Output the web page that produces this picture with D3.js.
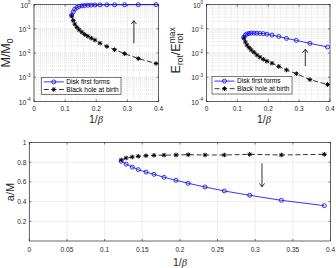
<!DOCTYPE html>
<html><head><meta charset="utf-8">
<script src="https://cdn.jsdelivr.net/npm/d3@7"></script>
<style>
html,body{margin:0;padding:0;background:#fff;}
svg{display:block;font-family:"Liberation Sans",Arial,Helvetica,sans-serif;}
</style></head>
<body><svg id="c" width="336" height="268"></svg>
<script>
// ---------- data ----------
const xTop = [0.121,0.126,0.131,0.138,0.145,0.154,0.163,0.173,0.184,0.196,0.212,0.234,0.259,0.291,0.335,0.392];
const massDisk = [0.36,0.50,0.64,0.75,0.83,0.88,0.91,0.93,0.945,0.955,0.965,0.97,0.975,0.98,0.985,0.99];
const massBH   = [0.338,0.217,0.155,0.114,0.090,0.072,0.058,0.049,0.041,0.034,0.0255,0.0186,0.0137,0.0094,0.0059,0.0037];
const erotDisk = [0.045,0.055,0.061,0.064,0.066,0.066,0.065,0.064,0.063,0.060,0.055,0.048,0.040,0.033,0.025,0.0177];
const erotBH   = [0.041,0.0284,0.0214,0.0166,0.0133,0.0107,0.0083,0.0068,0.0055,0.0046,0.0038,0.0028,0.0020,0.0014,0.0008,0.0005];
const xBot = [0.122,0.1286,0.1368,0.1447,0.155,0.1656,0.179,0.1948,0.211,0.2333,0.259,0.2927,0.3347,0.3918];
const spinDisk = [0.81,0.78,0.75,0.725,0.70,0.677,0.647,0.616,0.586,0.548,0.508,0.464,0.413,0.359];
const spinBH   = [0.822,0.843,0.853,0.86,0.866,0.87,0.872,0.873,0.876,0.873,0.873,0.88,0.873,0.88];
const xTicksTop = [0,0.1,0.2,0.3,0.4];
const xTickLabelsTop = ["0","0.1","0.2","0.3","0.4"];
const logExps = [0,-1,-2,-3,-4];
const xTicksBot = [0,0.05,0.1,0.15,0.2,0.25,0.3,0.35,0.4];
const xTickLabelsBot = ["0","0.05","0.1","0.15","0.2","0.25","0.3","0.35","0.4"];
const yTicksBot = [0.2,0.4,0.6,0.8,1];
const yTickLabelsBot = ["0.2","0.4","0.6","0.8","1"];
const legendLabels = ["Disk first forms","Black hole at birth"];
// arrows: [x, yStart, yEnd]
const arrowTL = [0.321, 0.025, 0.215];
const arrowTR = [0.320, 0.0029, 0.0142];
const arrowB  = [0.309, 0.79, 0.55];

// ---------- helpers ----------
const svg = d3.select("#c");
const AX = "#262626", GRID = "#e3e3e3", BLUE = "#0000ff";

function starPath(r){
  const d = r*0.72;
  return `M0,${-r}L0,${r}M${-r},0L${r},0M${-d},${-d}L${d},${d}M${-d},${d}L${d},${-d}`;
}

function drawPanel(o){
  const g = svg.append("g");
  const {x, y, log} = o;
  const [x0,x1] = x.range(), [y0,y1] = y.range();
  g.append("rect").attr("x",x0).attr("y",y1).attr("width",x1-x0).attr("height",y0-y1).attr("fill","#fff");
  if (log){
    const minors=[];
    for (let e=-4;e<0;e++) for (let m=2;m<=9;m++) minors.push(m*Math.pow(10,e));
    g.selectAll(".mg").data(minors).join("line")
      .attr("x1",x0).attr("x2",x1).attr("y1",d=>y(d)).attr("y2",d=>y(d))
      .attr("stroke","#cfcfcf").attr("stroke-width",0.5).attr("stroke-dasharray","1,1");
    const xm = d3.range(0.02,0.4,0.02).filter(v=>Math.abs(v*10-Math.round(v*10))>1e-6);
    g.selectAll(".mgx").data(xm).join("line")
      .attr("x1",d=>x(d)).attr("x2",d=>x(d)).attr("y1",y0).attr("y2",y1)
      .attr("stroke","#cfcfcf").attr("stroke-width",0.5).attr("stroke-dasharray","1,1");
  }
  g.selectAll(".gx").data(o.xTicks).join("line")
    .attr("x1",d=>x(d)).attr("x2",d=>x(d)).attr("y1",y0).attr("y2",y1)
    .attr("stroke",GRID).attr("stroke-width",0.6);
  g.selectAll(".gy").data(o.yTicks).join("line")
    .attr("x1",x0).attr("x2",x1).attr("y1",d=>y(d)).attr("y2",d=>y(d))
    .attr("stroke",GRID).attr("stroke-width",0.6);
  const tl=2;
  o.xTicks.forEach(v=>{
    g.append("line").attr("x1",x(v)).attr("x2",x(v)).attr("y1",y0).attr("y2",y0-tl).attr("stroke",AX).attr("stroke-width",0.6);
    g.append("line").attr("x1",x(v)).attr("x2",x(v)).attr("y1",y1).attr("y2",y1+tl).attr("stroke",AX).attr("stroke-width",0.6);
  });
  o.yTicks.forEach(v=>{
    g.append("line").attr("x1",x0).attr("x2",x0+tl).attr("y1",y(v)).attr("y2",y(v)).attr("stroke",AX).attr("stroke-width",0.6);
    g.append("line").attr("x1",x1).attr("x2",x1-tl).attr("y1",y(v)).attr("y2",y(v)).attr("stroke",AX).attr("stroke-width",0.6);
  });
  g.append("rect").attr("x",x0).attr("y",y1).attr("width",x1-x0).attr("height",y0-y1)
    .attr("fill","none").attr("stroke",AX).attr("stroke-width",0.7);
  g.selectAll(".xl").data(o.xTicks).join("text")
    .attr("x",d=>x(d)).attr("y",o.xLabelY).attr("text-anchor","middle")
    .attr("font-size",6.5).attr("fill",AX).text((d,i)=>o.xTickLabels[i]);
  if (log){
    logExps.forEach(e=>{
      const t = g.append("text").attr("x",x0-3.5).attr("y",y(Math.pow(10,e))+3)
        .attr("text-anchor","end").attr("font-size",6.8).attr("fill",AX);
      t.append("tspan").text("10");
      t.append("tspan").attr("dy",-3.2).attr("font-size",4.6).text(String(e));
    });
  } else {
    g.selectAll(".yl").data(o.yTicks).join("text")
      .attr("x",x0-3).attr("y",d=>y(d)+2.3).attr("text-anchor","end")
      .attr("font-size",6.5).attr("fill",AX).text((d,i)=>o.yTickLabels[i]);
  }
  return g;
}

function drawSeries(g, x, y, xs, ys, color, dashed, marker){
  const line = d3.line().x((d,i)=>x(xs[i])).y(d=>y(d));
  g.append("path").attr("d",line(ys)).attr("fill","none").attr("stroke",color)
    .attr("stroke-width",0.8).attr("stroke-dasharray",dashed?"5,2.6":null);
  if (marker==="o"){
    g.selectAll(null).data(ys).join("circle").attr("cx",(d,i)=>x(xs[i])).attr("cy",d=>y(d))
      .attr("r",2).attr("fill","none").attr("stroke",color).attr("stroke-width",0.8);
  } else {
    g.selectAll(null).data(ys).join("path")
      .attr("transform",(d,i)=>`translate(${x(xs[i])},${y(d)})`)
      .attr("d",starPath(2.3)).attr("stroke",color).attr("stroke-width",1).attr("fill","none");
  }
}

function drawArrow(g, x, y, a){
  const xp=x(a[0]), ys=y(a[1]), ye=y(a[2]);
  const dir = ye<ys ? 1 : -1;
  g.append("line").attr("x1",xp).attr("x2",xp).attr("y1",ys).attr("y2",ye).attr("stroke","#000").attr("stroke-width",0.8);
  g.append("path").attr("d",`M${xp-2.6},${ye+dir*3.4}L${xp},${ye}L${xp+2.6},${ye+dir*3.4}`)
    .attr("fill","none").attr("stroke","#000").attr("stroke-width",0.8);
}

function drawLegend(g, bx, by, bw, bh){
  g.append("rect").attr("x",bx).attr("y",by).attr("width",bw).attr("height",bh)
    .attr("fill","#fff").attr("stroke",AX).attr("stroke-width",0.6);
  const rows=[by+4.6, by+12.2];
  const lx0=bx+2.5, lx1=bx+22.5, mx=bx+12.5;
  g.append("line").attr("x1",lx0).attr("x2",lx1).attr("y1",rows[0]).attr("y2",rows[0]).attr("stroke",BLUE).attr("stroke-width",0.8);
  g.append("circle").attr("cx",mx).attr("cy",rows[0]).attr("r",2).attr("fill","none").attr("stroke",BLUE).attr("stroke-width",0.8);
  g.append("line").attr("x1",lx0).attr("x2",lx1).attr("y1",rows[1]).attr("y2",rows[1]).attr("stroke","#000").attr("stroke-width",0.8).attr("stroke-dasharray","5,2.6");
  g.append("path").attr("transform",`translate(${mx},${rows[1]})`).attr("d",starPath(2.3)).attr("stroke","#000").attr("stroke-width",1);
  legendLabels.forEach((t,i)=>{
    g.append("text").attr("x",bx+25).attr("y",rows[i]+2.3).attr("font-size",6.6).attr("fill","#000").text(t);
  });
}

// ---------- panel 1: M/M0 ----------
const x1s = d3.scaleLinear().domain([0,0.4]).range([34,158.5]);
const y1s = d3.scaleLog().domain([1e-4,1]).range([101.5,4.5]);
const g1 = drawPanel({x:x1s,y:y1s,log:true,xTicks:xTicksTop,xTickLabels:xTickLabelsTop,
  yTicks:logExps.map(e=>Math.pow(10,e)),xLabelY:111});
drawSeries(g1,x1s,y1s,xTop,massBH,"#000",true,"*");
drawSeries(g1,x1s,y1s,xTop,massDisk,BLUE,false,"o");
drawArrow(g1,x1s,y1s,arrowTL);
drawLegend(g1,41.3,77.3,79.7,17);

// ---------- panel 2: Erot ----------
const x2s = d3.scaleLinear().domain([0,0.4]).range([206.5,330]);
const y2s = d3.scaleLog().domain([1e-4,1]).range([101.5,4.5]);
const g2 = drawPanel({x:x2s,y:y2s,log:true,xTicks:xTicksTop,xTickLabels:xTickLabelsTop,
  yTicks:logExps.map(e=>Math.pow(10,e)),xLabelY:111});
drawSeries(g2,x2s,y2s,xTop,erotBH,"#000",true,"*");
drawSeries(g2,x2s,y2s,xTop,erotDisk,BLUE,false,"o");
drawArrow(g2,x2s,y2s,arrowTR);
drawLegend(g2,212,76.5,80,17.5);

// ---------- panel 3: a/M ----------
const x3s = d3.scaleLinear().domain([0,0.4]).range([29.3,330.5]);
const y3s = d3.scaleLinear().domain([0,1]).range([241,142.5]);
const g3 = drawPanel({x:x3s,y:y3s,log:false,xTicks:xTicksBot,xTickLabels:xTickLabelsBot,
  yTicks:yTicksBot,yTickLabels:yTickLabelsBot,xLabelY:251.5});
drawSeries(g3,x3s,y3s,xBot,spinBH,"#000",true,"*");
drawSeries(g3,x3s,y3s,xBot,spinDisk,BLUE,false,"o");
drawArrow(g3,x3s,y3s,arrowB);

// ---------- axis labels ----------
function xLabel(cx, base, fs){
  const t = svg.append("text").attr("x",cx).attr("y",base).attr("text-anchor","middle")
    .attr("font-size",fs).attr("fill",AX);
  t.append("tspan").text("1/");
  t.append("tspan").attr("font-style","italic").attr("font-family","'Liberation Serif','DejaVu Serif',serif").text("β");
}
xLabel(96,122.5,10.5);
xLabel(264,122.5,10.5);
xLabel(180,265.5,10.5);

const l1 = svg.append("text").attr("transform","translate(9.5,53) rotate(-90)").attr("text-anchor","middle")
  .attr("font-size",12.5).attr("fill",AX);
l1.append("tspan").text("M/M");
l1.append("tspan").attr("font-size",8.5).attr("dy",3).text("0");

const l2 = svg.append("g").attr("transform","translate(180,50) rotate(-90)");
(function(){
  const fs=12.5, sfs=8.5;
  const t = l2.append("text").attr("font-size",fs).attr("fill",AX);
  t.append("tspan").text("E");
  t.append("tspan").attr("font-size",sfs).attr("dy",3).text("rot");
  t.append("tspan").attr("dy",-3).text("/E");
  const sub = t.append("tspan").attr("font-size",sfs).attr("dy",3).text("rot");
  const subLen = sub.node().getComputedTextLength();
  t.append("tspan").attr("font-size",sfs).attr("dx",-subLen).attr("dy",-8.5).text("max");
  const bb = t.node().getBBox();
  t.attr("x",0).attr("transform",`translate(${-bb.width/2},0)`);
})();

svg.append("text").attr("transform","translate(13.5,192) rotate(-90)").attr("text-anchor","middle")
  .attr("font-size",11).attr("fill",AX).text("a/M");
</script></body></html>
